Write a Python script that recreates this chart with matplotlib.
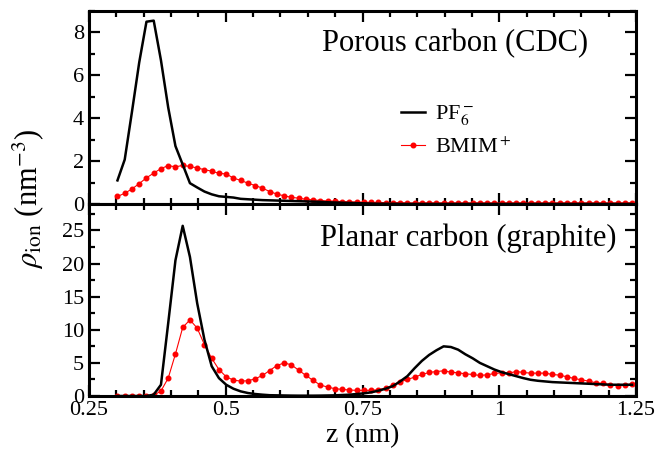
import matplotlib
matplotlib.use("Agg")
import matplotlib.pyplot as plt
from matplotlib.ticker import MultipleLocator
import numpy as np

# grid of z positions (nm), 72 bins
z = 0.302 + 0.01325 * np.arange(72)

# porous carbon (CDC)
pf6_cdc = [1.1, 2.07, 4.3, 6.6, 8.5, 8.55, 6.7, 4.5, 2.7, 1.84,
           0.97, 0.77, 0.58, 0.45, 0.36, 0.33, 0.3, 0.24, 0.22, 0.2,
           0.18, 0.17, 0.16, 0.15, 0.14, 0.13, 0.12, 0.11, 0.1, 0.08,
           0.07, 0.06, 0.05, 0.04, 0.03, 0.02, 0.01, 0.01, 0.01, 0.0,
           0.0, 0.0, 0.0, 0.0, 0.0, 0.0, 0.0, 0.0, 0.0, 0.0,
           0.0, 0.0, 0.0, 0.0, 0.0, 0.0, 0.0, 0.0, 0.0, 0.0,
           0.0, 0.0, 0.0, 0.0, 0.0, 0.0, 0.0, 0.0, 0.0, 0.0,
           0.0, 0.0]
bmim_cdc = [0.35, 0.5, 0.7, 0.95, 1.22, 1.44, 1.65, 1.79, 1.73, 1.8,
            1.75, 1.68, 1.6, 1.53, 1.43, 1.4, 1.21, 1.1, 0.97, 0.86,
            0.74, 0.58, 0.46, 0.38, 0.31, 0.27, 0.22, 0.19, 0.16, 0.14,
            0.13, 0.11, 0.1, 0.09, 0.08, 0.07, 0.07, 0.06, 0.06, 0.06,
            0.05, 0.05, 0.05, 0.05, 0.05, 0.05, 0.05, 0.05, 0.05, 0.05,
            0.05, 0.05, 0.05, 0.05, 0.05, 0.05, 0.05, 0.05, 0.05, 0.05,
            0.05, 0.05, 0.05, 0.05, 0.05, 0.05, 0.05, 0.05, 0.05, 0.05,
            0.05, 0.05]

# planar carbon (graphite)
pf6_gr = [0.0, 0.0, 0.0, 0.0, 0.0, 0.2, 1.7, 11.0, 20.5, 25.7,
          21.0, 14.0, 8.5, 4.5, 2.7, 1.7, 1.1, 0.7, 0.45, 0.3,
          0.2, 0.12, 0.1, 0.08, 0.06, 0.05, 0.05, 0.05, 0.06, 0.08,
          0.1, 0.15, 0.2, 0.3, 0.4, 0.55, 0.8, 1.1, 1.5, 2.2,
          3.0, 4.2, 5.3, 6.2, 6.9, 7.5, 7.4, 7.0, 6.3, 5.7,
          5.0, 4.5, 4.0, 3.6, 3.3, 3.0, 2.7, 2.45, 2.3, 2.2,
          2.1, 2.05, 2.0, 1.95, 1.9, 1.85, 1.8, 1.75, 1.7, 1.7,
          1.7, 1.7]
bmim_gr = [0.0, 0.0, 0.0, 0.0, 0.0, 0.1, 0.76, 2.7, 6.35, 10.35,
           11.5, 10.25, 7.75, 5.7, 4.0, 2.9, 2.4, 2.25, 2.3, 2.6,
           3.1, 3.85, 4.6, 5.0, 4.7, 3.9, 3.1, 2.35, 1.65, 1.35,
           1.1, 1.0, 0.9, 0.85, 0.85, 0.85, 0.95, 1.2, 1.65, 2.1,
           2.5, 2.85, 3.25, 3.55, 3.7, 3.8, 3.6, 3.5, 3.35, 3.25,
           3.1, 3.2, 3.4, 3.5, 3.45, 3.7, 3.55, 3.45, 3.45, 3.45,
           3.25, 3.15, 2.9, 2.65, 2.45, 2.25, 2.0, 1.9, 1.7, 1.55,
           1.65, 1.85]

plt.rcParams['font.family'] = ['Liberation Serif', 'DejaVu Serif']
plt.rcParams['mathtext.fontset'] = 'stix'

fig = plt.figure(figsize=(6.58, 4.5), dpi=100)
ax1 = fig.add_axes([0.1353, 0.5467, 0.8313, 0.4289])
ax2 = fig.add_axes([0.1353, 0.12, 0.8313, 0.4267])

for ax in (ax1, ax2):
	ax.set_xlim(0.25, 1.25)
	ax.xaxis.set_major_locator(MultipleLocator(0.25))
	ax.xaxis.set_minor_locator(MultipleLocator(0.05))
	ax.tick_params(which='both', direction='in', top=True, right=True, width=1.6, labelsize=16)
	ax.tick_params(which='major', length=8)
	ax.tick_params(which='minor', length=4.5)
	for s in ax.spines.values():
		s.set_linewidth(2.2)

ax1.plot(z, pf6_cdc, color='k', lw=1.8, label=r'PF$_6^-$', zorder=3)
ax1.plot(z, bmim_cdc, color='r', lw=0.8, marker='o', ms=3.3, label=r'BMIM$^+$', zorder=2)
ax1.set_ylim(0, 9)
ax1.yaxis.set_major_locator(MultipleLocator(2))
ax1.yaxis.set_minor_locator(MultipleLocator(1))
ax1.tick_params(labelbottom=False)
ax1.text(0.912, 0.83, 'Porous carbon (CDC)', transform=ax1.transAxes, ha='right', va='center', fontsize=22)
ax1.legend(loc='center left', bbox_to_anchor=(0.55, 0.38), frameon=False, fontsize=16,
	handlelength=1.1, handletextpad=0.45, labelspacing=0.45, borderpad=0)

ax2.plot(z, pf6_gr, color='k', lw=1.8, zorder=3)
ax2.plot(z, bmim_gr, color='r', lw=0.8, marker='o', ms=3.3, zorder=2)
ax2.set_ylim(0, 29)
ax2.yaxis.set_major_locator(MultipleLocator(5))
ax2.yaxis.set_minor_locator(MultipleLocator(2.5))
ax2.xaxis.set_major_formatter(plt.FuncFormatter(lambda v, p: ('%g' % v)))
ax2.text(0.965, 0.82, 'Planar carbon (graphite)', transform=ax2.transAxes, ha='right', va='center', fontsize=22)
ax2.set_xlabel('z (nm)', fontsize=20, labelpad=2)

fig.text(0.042, 1 - 199 / 450, r'$\rho_{\rm ion}$ (nm$^{-3}$)', rotation=90, ha='center', va='center', fontsize=22)

fig.savefig('out.png', dpi=100)
